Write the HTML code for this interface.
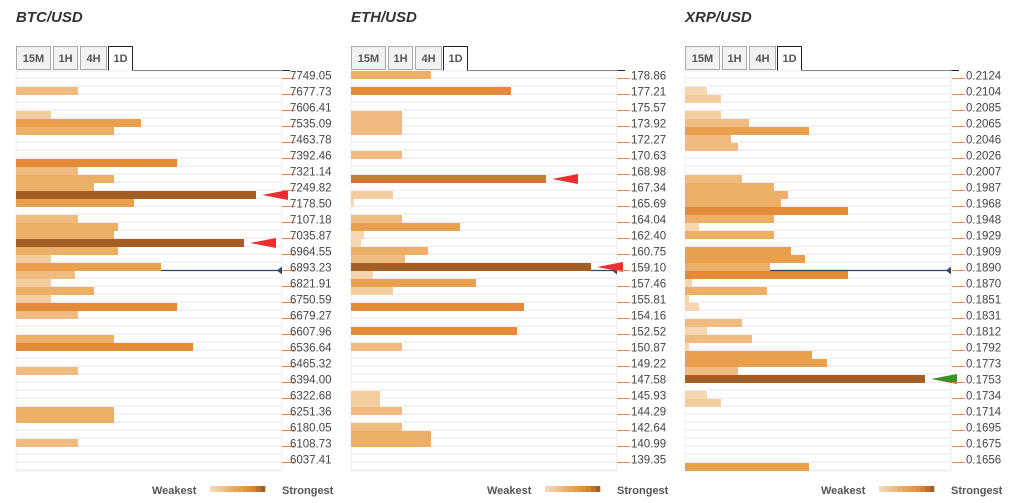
<!DOCTYPE html>
<html><head><meta charset="utf-8"><style>
body{margin:0;background:#fff;width:1012px;height:503px;overflow:hidden;font-family:"Liberation Sans",sans-serif}
svg{display:block}
</style></head><body>
<svg id="c" width="1012" height="503"></svg>
<script>
const btcLabels=["7749.05","7677.73","7606.41","7535.09","7463.78","7392.46","7321.14","7249.82","7178.50","7107.18","7035.87","6964.55","6893.23","6821.91","6750.59","6679.27","6607.96","6536.64","6465.32","6394.00","6322.68","6251.36","6180.05","6108.73","6037.41"];
const btcRows=[2,5,6,7,11,12,13,14,15,16,18,19,20,21,22,23,24,25,26,27,28,29,30,33,34,37,42,43,46];
const btcVals=[62,35,125,98,161,62,98,78,240,118,62,102,98,228,102,35,145,59,35,78,35,161,62,98,177,62,98,98,62];
const btcArrows=[15,21];
const btcPrice=24;

const ethLabels=["178.86","177.21","175.57","173.92","172.27","170.63","168.98","167.34","165.69","164.04","162.40","160.75","159.10","157.46","155.81","154.16","152.52","150.87","149.22","147.58","145.93","144.29","142.64","140.99","139.35"];
const ethRows=[0,2,5,6,7,10,13,15,16,18,19,20,21,22,23,24,25,26,27,29,32,34,40,41,42,44,45,46];
const ethVals=[80,160,51,51,51,51,195,42,3,51,109,13,10,77,54,240,22,125,42,173,166,51,29,29,51,51,80,80];
const ethArrows=[13,24];
const ethPrice=24;

const xrpLabels=["0.2124","0.2104","0.2085","0.2065","0.2046","0.2026","0.2007","0.1987","0.1968","0.1948","0.1929","0.1909","0.1890","0.1870","0.1851","0.1831","0.1812","0.1792","0.1773","0.1753","0.1734","0.1714","0.1695","0.1675","0.1656"];
const xrpRows=[2,3,5,6,7,8,9,13,14,15,16,17,18,19,20,22,23,24,25,26,27,28,29,31,32,33,34,35,36,37,38,40,41,49];
const xrpVals=[22,36,36,64,124,46,53,57,89,103,96,163,89,14,89,106,120,85,163,7,82,4,14,57,22,67,4,127,142,53,240,22,36,124];
const xrpArrows=[38];
const xrpPrice=24;

const NS="http://www.w3.org/2000/svg";
const svg=document.getElementById('c');
function mk(tag,attrs,parent){const e=document.createElementNS(NS,tag);for(const k in attrs)e.setAttribute(k,attrs[k]);(parent||svg).appendChild(e);return e;}
const ROWS=50,ROWH=8,TOP=71,PW=266,VMAX=266;
function yRow(i){return TOP+i*ROWH;}
function xVal(x0,v){return x0+v/VMAX*PW;}
function col(v){if(v<25)return"#f5d6b0";if(v<45)return"#f3cd9f";if(v<70)return"#efbb80";if(v<105)return"#ecaf68";if(v<150)return"#e9a04d";if(v<185)return"#e48a3b";if(v<210)return"#cc7a30";return"#a25e24";}

function panel(name,title,x0,labels,rows,vals,arrows,price,arrowColor,tickX,labelX){
  const g=mk('g',{});
  
  
  const t=mk('text',{x:x0,y:22,'font-size':15,'font-weight':'bold','font-style':'italic',fill:'#333'},g);
  t.textContent=title;
  
  
  const tabs=[["15M",0,34],["1H",37,24],["4H",64,26],["1D",92,24]];
  tabs.forEach((tb,i)=>{
    const active=i===3;
    const tg=mk('g',{},g);
    
    
    mk('rect',{x:x0+tb[1]+.5,y:46.5,width:tb[2],height:active?25:23,fill:active?'#fff':'#f2f2f2',stroke:active?'#222':'#aaa','stroke-width':1},tg);
    const tt=mk('text',{x:x0+tb[1]+tb[2]/2+.5,y:62,'font-size':11,'font-weight':'bold',fill:'#555','text-anchor':'middle'},tg);
    tt.textContent=tb[0];
  });
  mk('line',{x1:x0+116,y1:70.5,x2:x0+274,y2:70.5,stroke:'#222','stroke-width':1},g);
  mk('rect',{x:x0,y:TOP,width:PW,height:ROWS*ROWH,fill:'#fff',stroke:'#eeeef3','stroke-width':1},g);
  for(let i=0;i<ROWS;i++){mk('rect',{x:x0,y:yRow(i)+6.5,width:PW,height:1.5,fill:'#efeef5'},g);}
  rows.forEach((r,i)=>{
    const b=mk('rect',{x:x0,y:yRow(r),width:xVal(x0,vals[i])-x0,height:ROWH,fill:col(vals[i])},g);
    
    
  });
  const pi=rows.indexOf(price);
  const py=yRow(price)+ROWH-0.5;
  const pl=mk('line',{x1:xVal(x0,pi>=0?vals[pi]:0),y1:py,x2:x0+PW,y2:py,stroke:'#2c4a6e','stroke-width':1.3},g);
  
  
  mk('polygon',{points:`${x0+PW-5},${py} ${x0+PW},${py-4} ${x0+PW},${py+4}`,fill:'#2c4a6e'},g);
  arrows.forEach(r=>{
    const ii=rows.indexOf(r);const ax=xVal(x0,vals[ii])+6;const ay=yRow(r)+4;
    const a=mk('polygon',{points:`${ax},${ay} ${ax+26},${ay-5} ${ax+26},${ay+5}`,fill:arrowColor},g);
    
    
  });
  labels.forEach((l,i)=>{
    const y=78+16*i;
    mk('line',{x1:tickX,y1:y+.5,x2:tickX+13,y2:y+.5,stroke:'#e48a3b','stroke-width':1},g);
    const lt=mk('text',{x:labelX,y:y+1.5,'font-size':11.5,fill:'#444'},g);
    lt.textContent=l;
    
    
  });
  const lg=mk('g',{},g);
  
  
  const w=mk('text',{x:x0+136,y:494,'font-size':11,'font-weight':'bold',fill:'#555'},lg);w.textContent='Weakest';
  const sc=["#f5d6b0","#f3cd9f","#f1c48f","#efbb80","#ecaf68","#eaa758","#e9a04d","#e6953f","#e48a3b","#d8812f","#c0702a","#a25e24"];
  sc.forEach((c,i)=>mk('rect',{x:x0+194+i*4.6,y:486,width:4.7,height:6,fill:c},lg));
  const s=mk('text',{x:x0+266,y:494,'font-size':11,'font-weight':'bold',fill:'#555'},lg);s.textContent='Strongest';
}
panel('btc','BTC/USD',16,btcLabels,btcRows,btcVals,btcArrows,btcPrice,'#e8312f',282,290);
panel('eth','ETH/USD',351,ethLabels,ethRows,ethVals,ethArrows,ethPrice,'#e8312f',617,631);
panel('xrp','XRP/USD',685,xrpLabels,xrpRows,xrpVals,xrpArrows,xrpPrice,'#3f8f25',952,966);
</script>
</body></html>
